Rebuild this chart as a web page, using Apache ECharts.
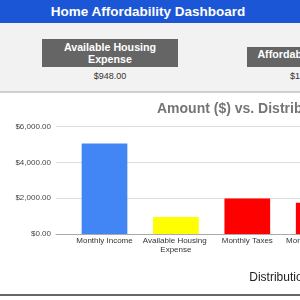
<!DOCTYPE html>
<html><head><meta charset="utf-8">
<script src="https://cdn.jsdelivr.net/npm/echarts@6/dist/echarts.min.js"></script>
<style>
html,body{margin:0;padding:0;width:300px;height:300px;overflow:hidden;background:#fff;font-family:"Liberation Sans",Arial,sans-serif;}
#header{position:absolute;left:0;top:0;width:300px;height:23px;background:#1a56d6;}
#header div{position:absolute;left:0;top:0;width:296px;line-height:23px;text-align:center;color:#fff;font-weight:bold;font-size:13.5px;white-space:nowrap;}
#cards{position:absolute;left:0;top:23px;width:300px;height:68px;background:#f2f2f2;border-bottom:2px solid #d0d0d0;}
.box{position:absolute;width:136px;background:#656565;color:#fff;font-weight:bold;font-size:10.7px;line-height:12.3px;text-align:center;box-sizing:border-box;padding-top:1.5px;}
.val{position:absolute;width:136px;height:12px;line-height:12px;text-align:center;font-size:9px;color:#333;white-space:nowrap;}
#chart{position:absolute;left:0;top:93px;width:600px;height:201px;background:#fff;border-bottom:2px solid #666;}
</style></head>
<body>
<div id="header"><div>Home Affordability Dashboard</div></div>
<div id="cards">
  <div class="box" style="left:42px;top:16px;height:28px;">Available Housing<br>Expense</div>
  <div class="val" style="left:42px;top:47px;">$948.00</div>
  <div class="box" style="left:247px;top:24px;height:20px;padding-top:1px;white-space:nowrap;">Affordable Home Price</div>
  <div class="val" style="left:247px;top:47px;">$158,000.00</div>
</div>
<div id="chart"></div>
<script>
const categories = ['Monthly Income', 'Available Housing Expense', 'Monthly Taxes', 'Monthly Insurance'];
const amounts = [5050, 948, 1975, 1750];
const barColors = ['#4285f4', '#ffff00', '#ff0000', '#ff0000'];
const chartTitle = 'Amount ($) vs. Distribution';
const xAxisName = 'Distribution';
const yMin = 0, yMax = 6000, yStep = 2000;

const FF = '"Liberation Sans", Arial, sans-serif';
const fmt = v => '$' + v.toLocaleString('en-US', {minimumFractionDigits: 2, maximumFractionDigits: 2});
const chart = echarts.init(document.getElementById('chart'), null, {renderer: 'canvas'});
chart.setOption({
  animation: false,
  title: {
    text: chartTitle, left: 157, top: 9, padding: 0,
    textStyle: {fontSize: 14, fontWeight: 'bold', color: '#757575', fontFamily: FF}
  },
  grid: [
    {left: 56, top: 33.5, width: 446.6, height: 107.5},
    {left: 68.8, top: 33.5, width: 285.6, height: 107.5}
  ],
  xAxis: [
    {gridIndex: 0, type: 'value', min: 0, max: 1,
     axisLabel: {show: false}, axisTick: {show: false}, splitLine: {show: false},
     axisLine: {show: true, lineStyle: {color: '#aaa'}},
     name: xAxisName, nameLocation: 'middle', nameGap: 38,
     nameTextStyle: {fontSize: 12, color: '#222', fontFamily: FF}},
    {gridIndex: 1, type: 'category', data: categories,
     axisLine: {show: false}, axisTick: {show: false},
     axisLabel: {interval: 0, fontSize: 8, color: '#333', margin: 3, width: 68, overflow: 'break', lineHeight: 8.5, fontFamily: FF}}
  ],
  yAxis: [
    {gridIndex: 0, type: 'value', min: yMin, max: yMax, interval: yStep,
     axisLabel: {formatter: fmt, fontSize: 8, color: '#444', margin: 5, fontFamily: FF},
     splitLine: {lineStyle: {color: '#ddd'}}, axisLine: {show: false}, axisTick: {show: false}},
    {gridIndex: 1, type: 'value', min: yMin, max: yMax, show: false}
  ],
  series: [{
    type: 'bar', xAxisIndex: 1, yAxisIndex: 1, barWidth: '64%',
    data: amounts.map((v, i) => ({value: v, itemStyle: {color: barColors[i]}}))
  }]
});
</script>
</body></html>
